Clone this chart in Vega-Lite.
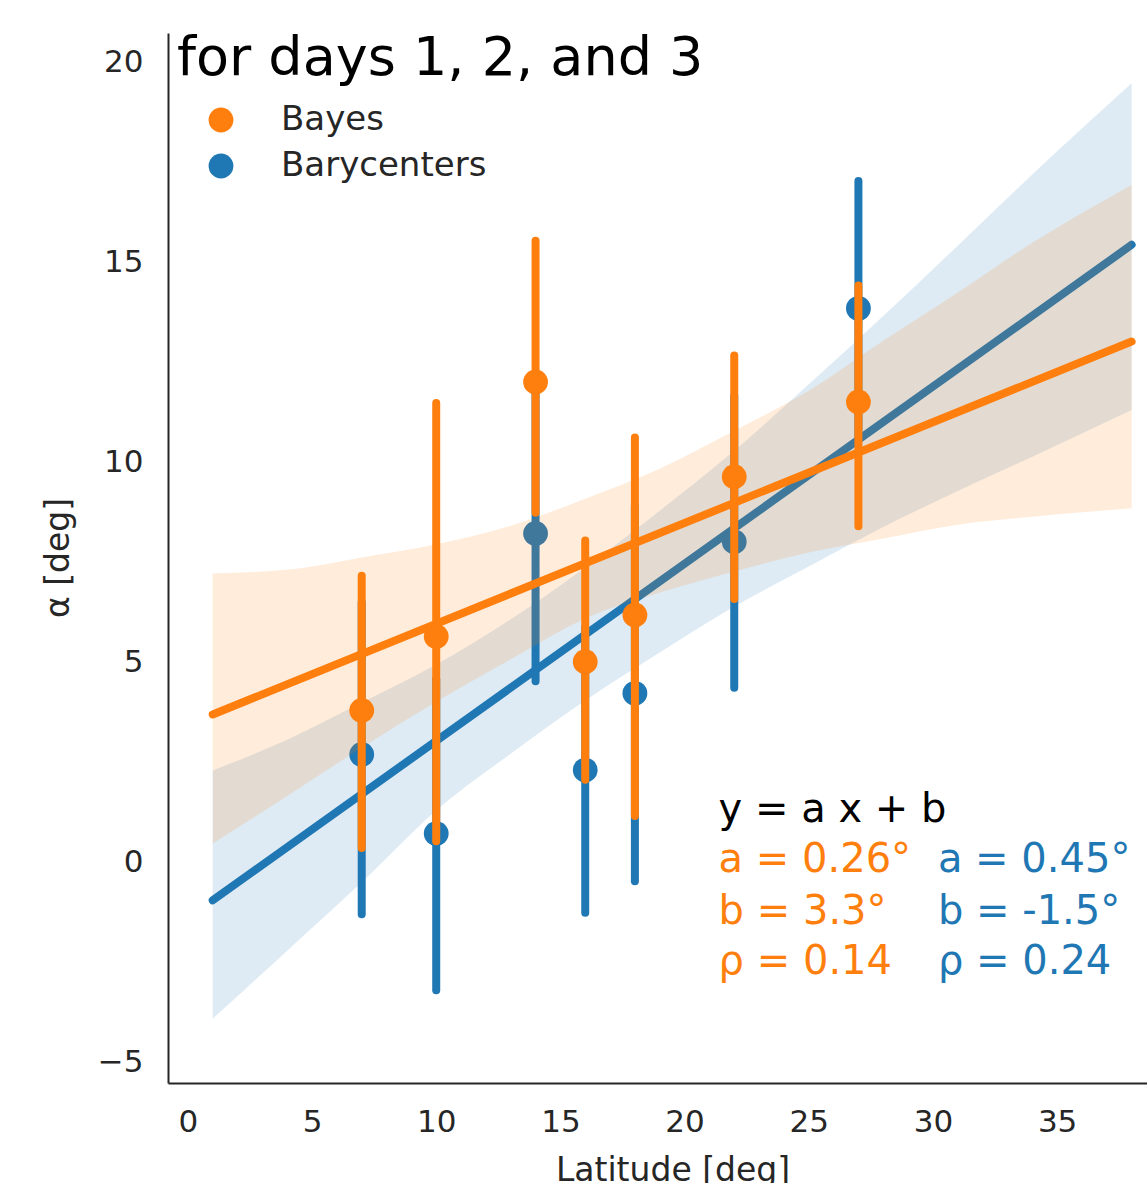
{
  "$schema": "https://vega.github.io/schema/vega-lite/v6.json",
  "width": 979,
  "height": 1050,
  "autosize": {"type": "none"},
  "padding": {"left": 168, "top": 33, "right": 0, "bottom": 100},
  "background": "white",
  "config": {
    "view": {"stroke": null},
    "axis": {
      "grid": false,
      "ticks": false,
      "domainColor": "#262626",
      "domainWidth": 2,
      "labelFont": "DejaVu Sans",
      "labelFontSize": 31,
      "labelColor": "#262626",
      "titleFont": "DejaVu Sans",
      "titleFontSize": 33,
      "titleFontWeight": "normal",
      "titleColor": "#262626"
    }
  },
  "datasets": {
    "points": [
      {"series": "Barycenters", "lat": 7, "alpha": 2.7, "lo": -1.3, "hi": 6.5},
      {"series": "Barycenters", "lat": 10, "alpha": 0.72, "lo": -3.2, "hi": 4.58},
      {"series": "Barycenters", "lat": 14, "alpha": 8.23, "lo": 4.53, "hi": 11.93},
      {"series": "Barycenters", "lat": 16, "alpha": 2.31, "lo": -1.26, "hi": 5.88},
      {"series": "Barycenters", "lat": 18, "alpha": 4.23, "lo": -0.47, "hi": 8.93},
      {"series": "Barycenters", "lat": 22, "alpha": 8.02, "lo": 4.37, "hi": 11.67},
      {"series": "Barycenters", "lat": 27, "alpha": 13.86, "lo": 10.67, "hi": 17.05},
      {"series": "Bayes", "lat": 7, "alpha": 3.8, "lo": 0.36, "hi": 7.17},
      {"series": "Bayes", "lat": 10, "alpha": 5.65, "lo": 0.53, "hi": 11.49},
      {"series": "Bayes", "lat": 14, "alpha": 12.02, "lo": 8.75, "hi": 15.55},
      {"series": "Bayes", "lat": 16, "alpha": 5.02, "lo": 2.07, "hi": 8.05},
      {"series": "Bayes", "lat": 18, "alpha": 6.19, "lo": 1.16, "hi": 10.63},
      {"series": "Bayes", "lat": 22, "alpha": 9.65, "lo": 6.59, "hi": 12.68},
      {"series": "Bayes", "lat": 27, "alpha": 11.52, "lo": 8.41, "hi": 14.43}
    ],
    "bands": [
      {"series": "Bayes", "lat": 1, "lo": 0.47, "hi": 7.23},
      {"series": "Bayes", "lat": 4, "lo": 1.66, "hi": 7.32},
      {"series": "Bayes", "lat": 7, "lo": 2.87, "hi": 7.63},
      {"series": "Bayes", "lat": 10, "lo": 4.02, "hi": 7.96},
      {"series": "Bayes", "lat": 13, "lo": 5.08, "hi": 8.42},
      {"series": "Bayes", "lat": 16, "lo": 6.1, "hi": 9.1},
      {"series": "Bayes", "lat": 19, "lo": 6.75, "hi": 9.85},
      {"series": "Bayes", "lat": 22, "lo": 7.28, "hi": 10.8},
      {"series": "Bayes", "lat": 25, "lo": 7.75, "hi": 11.8},
      {"series": "Bayes", "lat": 28, "lo": 8.1, "hi": 13.05},
      {"series": "Bayes", "lat": 31, "lo": 8.45, "hi": 14.26},
      {"series": "Bayes", "lat": 34, "lo": 8.65, "hi": 15.5},
      {"series": "Bayes", "lat": 38, "lo": 8.86, "hi": 16.95},
      {"series": "Barycenters", "lat": 1, "lo": -3.91, "hi": 2.3},
      {"series": "Barycenters", "lat": 4, "lo": -2.21, "hi": 3.07},
      {"series": "Barycenters", "lat": 7, "lo": -0.5, "hi": 4.0},
      {"series": "Barycenters", "lat": 10, "lo": 1.3, "hi": 4.95},
      {"series": "Barycenters", "lat": 13, "lo": 2.72, "hi": 6.08},
      {"series": "Barycenters", "lat": 16, "lo": 4.05, "hi": 7.38},
      {"series": "Barycenters", "lat": 19, "lo": 5.25, "hi": 8.8},
      {"series": "Barycenters", "lat": 22, "lo": 6.4, "hi": 10.3},
      {"series": "Barycenters", "lat": 25, "lo": 7.4, "hi": 11.96},
      {"series": "Barycenters", "lat": 28, "lo": 8.39, "hi": 13.67},
      {"series": "Barycenters", "lat": 31, "lo": 9.29, "hi": 15.43},
      {"series": "Barycenters", "lat": 34, "lo": 10.15, "hi": 17.21},
      {"series": "Barycenters", "lat": 38, "lo": 11.32, "hi": 19.49}
    ],
    "fits": [
      {"series": "Bayes", "lat": 1, "alpha": 3.7},
      {"series": "Bayes", "lat": 38, "alpha": 13.03},
      {"series": "Barycenters", "lat": 1, "alpha": -0.95},
      {"series": "Barycenters", "lat": 38, "alpha": 15.45}
    ],
    "notes": [
      {"grp": "eq", "label": "y = a x + b", "lat": 21.37, "alpha": 1.01},
      {"grp": "Bayes", "label": "a = 0.26°", "lat": 21.37, "alpha": -0.24},
      {"grp": "Bayes", "label": "b = 3.3°", "lat": 21.37, "alpha": -1.53},
      {"grp": "Bayes", "label": "ρ = 0.14", "lat": 21.37, "alpha": -2.8},
      {"grp": "Barycenters", "label": "a = 0.45°", "lat": 30.2, "alpha": -0.24},
      {"grp": "Barycenters", "label": "b = -1.5°", "lat": 30.2, "alpha": -1.53},
      {"grp": "Barycenters", "label": "ρ = 0.24", "lat": 30.2, "alpha": -2.8}
    ],
    "heading": [
      {"label": "for days 1, 2, and 3", "lat": -0.44, "alpha": 19.7}
    ]
  },
  "encoding": {
    "x": {
      "field": "lat",
      "type": "quantitative",
      "scale": {"domain": [-0.8, 38.62], "nice": false, "zero": false},
      "axis": {
        "values": [0, 5, 10, 15, 20, 25, 30, 35],
        "title": "Latitude [deg]",
        "labelPadding": 24,
        "titleX": 504.5,
        "titleY": 97,
        "titleAlign": "center",
        "titleBaseline": "alphabetic"
      }
    }
  },
  "layer": [
    {
      "data": {"name": "bands"},
      "transform": [{"filter": "datum.series === 'Barycenters'"}],
      "mark": {"type": "area", "color": "#1f77b4", "opacity": 0.15, "interpolate": "monotone"},
      "encoding": {
        "y": {
          "field": "lo",
          "type": "quantitative",
          "scale": {"domain": [-5.52, 20.75], "nice": false, "zero": false},
          "axis": {
            "values": [-5, 0, 5, 10, 15, 20],
            "title": "α [deg]",
            "labelPadding": 25,
            "titleX": -110,
            "titleY": 524.5,
            "titleAlign": "center",
            "titleBaseline": "middle",
            "titleAngle": 270
          }
        },
        "y2": {"field": "hi"}
      }
    },
    {
      "data": {"name": "fits"},
      "transform": [{"filter": "datum.series === 'Barycenters'"}],
      "mark": {"type": "line", "color": "#1f77b4", "strokeWidth": 8, "strokeCap": "round"},
      "encoding": {"y": {"field": "alpha", "type": "quantitative"}}
    },
    {
      "data": {"name": "points"},
      "transform": [{"filter": "datum.series === 'Barycenters'"}],
      "mark": {"type": "rule", "color": "#1f77b4", "strokeWidth": 8, "strokeCap": "round"},
      "encoding": {"y": {"field": "lo", "type": "quantitative"}, "y2": {"field": "hi"}}
    },
    {
      "data": {"name": "points"},
      "transform": [{"filter": "datum.series === 'Barycenters'"}],
      "mark": {"type": "point", "filled": true, "size": 615, "opacity": 1, "shape": "circle"},
      "encoding": {
        "y": {"field": "alpha", "type": "quantitative"},
        "color": {
          "field": "series",
          "type": "nominal",
          "scale": {"domain": ["Bayes", "Barycenters"], "range": ["#ff7f0e", "#1f77b4"]},
          "legend": {
            "orient": "none",
            "legendX": 36,
            "legendY": 70,
            "title": null,
            "padding": 0,
            "symbolType": "circle",
            "symbolSize": 615,
            "symbolStrokeWidth": 0,
            "symbolOpacity": 1,
            "labelFont": "DejaVu Sans",
            "labelFontSize": 34,
            "labelColor": "#262626",
            "labelLimit": 0,
            "labelOffset": 43,
            "rowPadding": 12
          }
        }
      }
    },
    {
      "data": {"name": "bands"},
      "transform": [{"filter": "datum.series === 'Bayes'"}],
      "mark": {"type": "area", "color": "#ff7f0e", "opacity": 0.15, "interpolate": "monotone"},
      "encoding": {"y": {"field": "lo", "type": "quantitative"}, "y2": {"field": "hi"}}
    },
    {
      "data": {"name": "fits"},
      "transform": [{"filter": "datum.series === 'Bayes'"}],
      "mark": {"type": "line", "color": "#ff7f0e", "strokeWidth": 8, "strokeCap": "round"},
      "encoding": {"y": {"field": "alpha", "type": "quantitative"}}
    },
    {
      "data": {"name": "points"},
      "transform": [{"filter": "datum.series === 'Bayes'"}],
      "mark": {"type": "rule", "color": "#ff7f0e", "strokeWidth": 8, "strokeCap": "round"},
      "encoding": {"y": {"field": "lo", "type": "quantitative"}, "y2": {"field": "hi"}}
    },
    {
      "data": {"name": "points"},
      "transform": [{"filter": "datum.series === 'Bayes'"}],
      "mark": {"type": "point", "filled": true, "size": 615, "opacity": 1, "shape": "circle"},
      "encoding": {
        "y": {"field": "alpha", "type": "quantitative"},
        "color": {"field": "series", "type": "nominal"}
      }
    },
    {
      "data": {"name": "notes"},
      "transform": [{"filter": "datum.grp === 'eq'"}],
      "mark": {"type": "text", "align": "left", "baseline": "alphabetic", "font": "DejaVu Sans", "fontSize": 40, "color": "#000000"},
      "encoding": {"y": {"field": "alpha", "type": "quantitative"}, "text": {"field": "label"}}
    },
    {
      "data": {"name": "notes"},
      "transform": [{"filter": "datum.grp === 'Bayes'"}],
      "mark": {"type": "text", "align": "left", "baseline": "alphabetic", "font": "DejaVu Sans", "fontSize": 40, "color": "#ff7f0e"},
      "encoding": {"y": {"field": "alpha", "type": "quantitative"}, "text": {"field": "label"}}
    },
    {
      "data": {"name": "notes"},
      "transform": [{"filter": "datum.grp === 'Barycenters'"}],
      "mark": {"type": "text", "align": "left", "baseline": "alphabetic", "font": "DejaVu Sans", "fontSize": 40, "color": "#1f77b4"},
      "encoding": {"y": {"field": "alpha", "type": "quantitative"}, "text": {"field": "label"}}
    },
    {
      "data": {"name": "heading"},
      "mark": {"type": "text", "align": "left", "baseline": "alphabetic", "font": "DejaVu Sans", "fontSize": 54, "color": "#000000"},
      "encoding": {"y": {"field": "alpha", "type": "quantitative"}, "text": {"field": "label"}}
    }
  ]
}
